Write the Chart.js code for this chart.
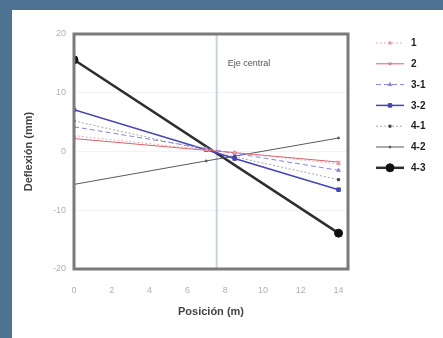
<!DOCTYPE html>
<html><head><meta charset="utf-8">
<script src="https://cdn.jsdelivr.net/npm/chart.js@4/dist/chart.umd.min.js"></script>
<style>
html,body{margin:0;padding:0;background:#4e7292;width:443px;height:338px;overflow:hidden}
#wrap{position:absolute;left:12px;top:10px;width:431px;height:328px;background:#fff}
</style></head><body>
<div id="wrap"><canvas id="c" width="431" height="328"></canvas></div>
<script>
const positions = [0, 7, 8.5, 14];
const endPositions = [0, 14];
const s1  = [2.7, 0.3, -0.2, -2.1];
const s2  = [2.2, 0.2, -0.2, -1.8];
const s31 = [4.2, 0.5, -0.3, -3.2];
const s32 = [7.1, 0.3, -1.2, -6.5];
const s41 = [5.2, 0.2, -0.9, -4.8];
const s42 = [-5.6, -1.6, -0.8, 2.3];
const s43 = [15.6, -13.9];
const seriesNames = ['1','2','3-1','3-2','4-1','4-2','4-3'];
const xTicks = [0,2,4,6,8,10,12,14];
const yTicks = [-20,-10,0,10,20];
const centralAxis = 7.55;

const pts = (xs, ys) => xs.map((x,i)=>({x, y: ys[i]}));
const styles = [
  {c:'#e89aa8', w:1, dash:[1.5,2.5], ps:'triangle', r:2},
  {c:'#dc6068', w:1, dash:[], ps:'crossRot', r:2},
  {c:'#8286e2', w:1, dash:[5,3], ps:'triangle', r:2},
  {c:'#4444b8', w:1.5, dash:[], ps:'rect', r:2.5},
  {c:'#a8a8a8', w:1, dash:[2,2], ps:'rect', r:1.5, pc:'#444'},
  {c:'#5a5a5a', w:1, dash:[], ps:'circle', r:1},
  {c:'#2e2e2e', w:2.5, dash:[], ps:'circle', r:4, pc:'#111'}
];
const dataArr = [pts(positions,s1),pts(positions,s2),pts(positions,s31),pts(positions,s32),pts(positions,s41),pts(positions,s42),pts(endPositions,s43)];
const datasets = dataArr.map((d,i)=>({
  label: seriesNames[i], data: d,
  borderColor: styles[i].c, borderWidth: styles[i].w, borderDash: styles[i].dash,
  pointStyle: styles[i].ps, pointRadius: styles[i].r,
  pointBackgroundColor: styles[i].pc || styles[i].c, pointBorderColor: styles[i].pc || styles[i].c,
  pointBorderWidth: 1, showLine: true, fill:false, tension:0
}));

const extras = {
  id:'extras',
  beforeDatasetsDraw(chart){
    const {ctx, chartArea:a, scales:{x}} = chart;
    const px = x.getPixelForValue(centralAxis);
    ctx.save();
    ctx.strokeStyle = '#c9d2dc'; ctx.lineWidth = 2;
    ctx.beginPath(); ctx.moveTo(px, a.top); ctx.lineTo(px, a.bottom); ctx.stroke();
    ctx.fillStyle = '#555'; ctx.font = '9px "Liberation Sans", Arial, sans-serif';
    ctx.textBaseline = 'middle';
    ctx.fillText('Eje central', px + 11, a.top + 30);
    ctx.restore();
  },
  afterDatasetsDraw(chart){
    const {ctx, chartArea:a} = chart;
    ctx.save();
    ctx.strokeStyle = '#7a7a7a'; ctx.lineWidth = 3;
    ctx.strokeRect(a.left, a.top, a.right - a.left, a.bottom - a.top);
    ctx.restore();
  },
  afterDraw(chart){
    const ctx = chart.ctx;
    ctx.save();
    const x0 = 364, x1 = 392, y0 = 33, step = 20.8;
    chart.data.datasets.forEach((ds,i)=>{
      const y = y0 + i*step;
      ctx.strokeStyle = ds.borderColor; ctx.lineWidth = ds.borderWidth;
      ctx.setLineDash(ds.borderDash);
      ctx.beginPath(); ctx.moveTo(x0,y); ctx.lineTo(x1,y); ctx.stroke();
      ctx.setLineDash([]);
      ctx.fillStyle = ds.pointBackgroundColor; ctx.strokeStyle = ds.pointBorderColor;
      ctx.lineWidth = 1;
      Chart.helpers.drawPoint(ctx, {pointStyle: ds.pointStyle, radius: ds.pointRadius, borderWidth:1}, (x0+x1)/2, y);
      ctx.fillStyle = '#222';
      ctx.font = 'bold 10px "Liberation Sans", Arial, sans-serif';
      ctx.textBaseline = 'middle';
      ctx.fillText(ds.label, 399, y + 0.5);
    });
    ctx.restore();
  }
};

new Chart(document.getElementById('c'), {
  type: 'scatter',
  data: { datasets },
  options: {
    responsive:false, animation:false,
    layout:{padding:{left:0, right:95, top:24, bottom:0}},
    plugins:{legend:{display:false}, tooltip:{enabled:false}},
    scales:{
      x:{type:'linear', min:0, max:14.5,
        afterBuildTicks(s){ s.ticks = xTicks.map(v=>({value:v})); },
        afterFit(s){ s.height = 69; },
        grid:{display:false, drawTicks:false},
        border:{display:false},
        ticks:{color:'#b0b0b0', font:{size:9, family:'"Liberation Sans", Arial, sans-serif'}, padding:16, maxRotation:0},
        title:{display:true, text:'Posición (m)', color:'#444', font:{size:11, weight:'bold', family:'"Liberation Sans", Arial, sans-serif'}, padding:{top:6,bottom:19}}
      },
      y:{type:'linear', min:-20, max:20,
        afterBuildTicks(s){ s.ticks = yTicks.map(v=>({value:v})); },
        afterFit(s){ s.width = 62; },
        grid:{color:'#f2f2f2', drawTicks:false},
        border:{display:false},
        ticks:{color:'#b0b0b0', font:{size:9, family:'"Liberation Sans", Arial, sans-serif'}, padding:8},
        title:{display:true, text:'Deflexión (mm)', color:'#444', font:{size:11, weight:'bold', family:'"Liberation Sans", Arial, sans-serif'}, padding:{top:10,bottom:0}}
      }
    }
  },
  plugins:[extras]
});
</script>
</body></html>
